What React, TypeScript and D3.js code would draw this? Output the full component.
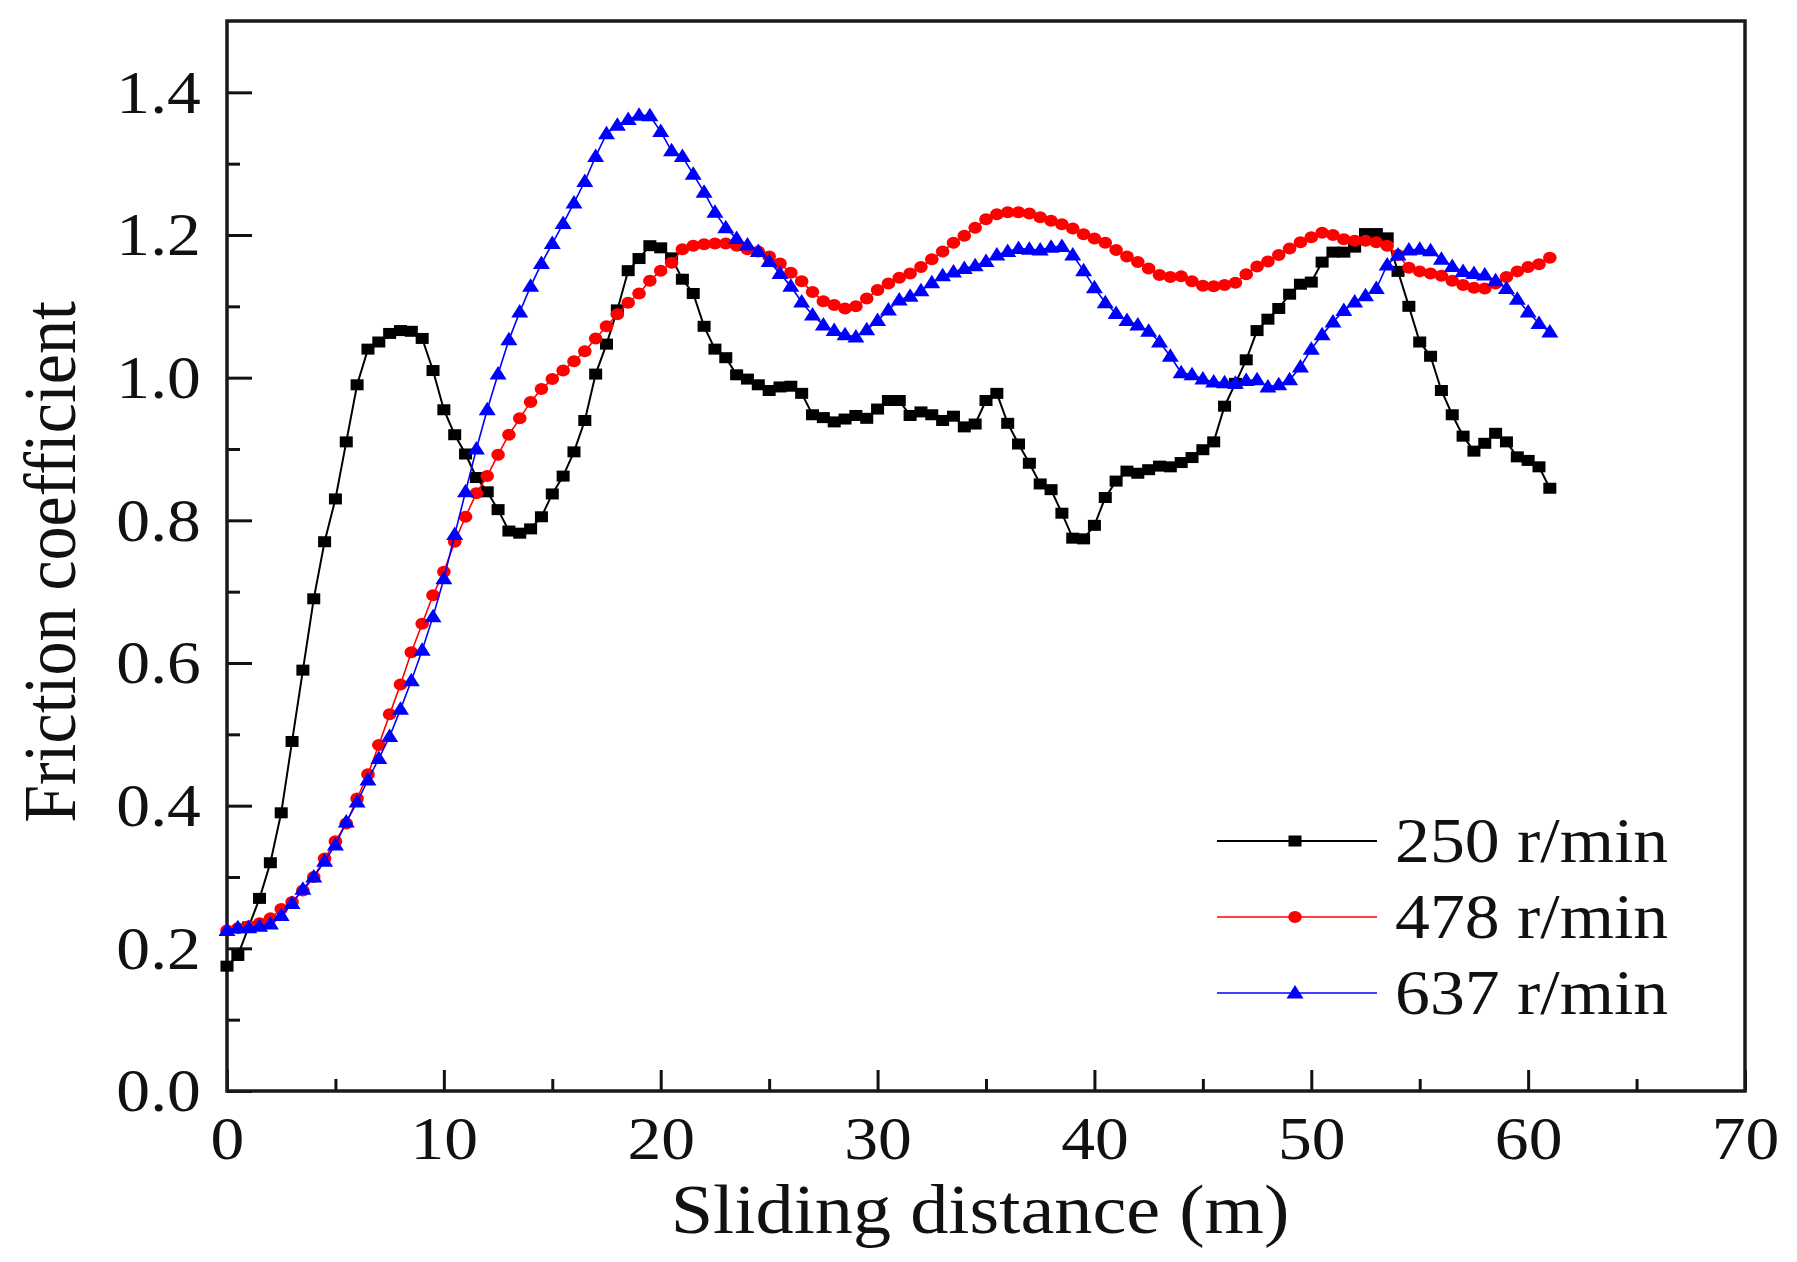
import React, { useEffect, useRef } from "react";
import * as d3 from "d3";

// sliding distance grid (m), one reading every 0.5 m
const distance = d3.range(0, 61.01, 0.5);

const rpm250 = [
  0.175, 0.19, 0.23, 0.27, 0.32, 0.39, 0.49, 0.59, 0.69, 0.77,
  0.83, 0.91, 0.99, 1.04, 1.05, 1.062, 1.066, 1.065, 1.055, 1.01,
  0.955, 0.92, 0.893, 0.86, 0.84, 0.815, 0.785, 0.782, 0.788, 0.805,
  0.837, 0.862, 0.896, 0.94, 1.005, 1.047, 1.095, 1.15, 1.167, 1.185,
  1.182, 1.168, 1.138, 1.118, 1.072, 1.04, 1.028, 1.004, 0.998, 0.99,
  0.982, 0.987, 0.988, 0.978, 0.948, 0.944, 0.938, 0.942, 0.947, 0.943,
  0.956, 0.968, 0.968, 0.947, 0.952, 0.948, 0.94, 0.946, 0.931, 0.935,
  0.968, 0.978, 0.936, 0.907, 0.88, 0.851, 0.843, 0.81, 0.775, 0.774,
  0.793, 0.832, 0.855, 0.869, 0.866, 0.871, 0.876, 0.875, 0.881, 0.888,
  0.899, 0.91, 0.96, 0.992, 1.025, 1.066, 1.082, 1.097, 1.117, 1.131,
  1.134, 1.162, 1.176, 1.176, 1.183, 1.202, 1.202, 1.196, 1.149, 1.1,
  1.05, 1.03, 0.982, 0.948, 0.918, 0.897, 0.908, 0.922, 0.91, 0.889,
  0.884, 0.875, 0.845,
];

const rpm478 = [
  0.225, 0.228, 0.231, 0.235, 0.242, 0.255, 0.265, 0.281, 0.3, 0.326,
  0.35, 0.375, 0.41, 0.444, 0.485, 0.528, 0.57, 0.615, 0.655, 0.695,
  0.728, 0.77, 0.805, 0.838, 0.862, 0.892, 0.92, 0.943, 0.966, 0.984,
  0.998, 1.01, 1.023, 1.037, 1.055, 1.072, 1.089, 1.105, 1.118, 1.136,
  1.15, 1.161, 1.18, 1.185, 1.187, 1.188, 1.188, 1.185, 1.18, 1.177,
  1.17, 1.16, 1.147, 1.135, 1.12, 1.107, 1.102, 1.097, 1.1, 1.111,
  1.123, 1.132, 1.14, 1.146, 1.155, 1.166, 1.177, 1.189, 1.199, 1.21,
  1.222, 1.229, 1.232, 1.232, 1.23, 1.225, 1.22, 1.215, 1.209, 1.201,
  1.195, 1.189, 1.179, 1.17, 1.162, 1.153, 1.144, 1.141, 1.142, 1.135,
  1.129, 1.128, 1.13, 1.133, 1.145, 1.156, 1.163, 1.172, 1.181, 1.19,
  1.197, 1.203, 1.2, 1.194, 1.192, 1.192, 1.19, 1.185, 1.172, 1.154,
  1.149, 1.146, 1.143, 1.136, 1.13, 1.126, 1.125, 1.132, 1.141, 1.149,
  1.155, 1.159, 1.168,
];

const rpm637 = [
  0.225, 0.229, 0.229, 0.231, 0.234, 0.246, 0.263, 0.283, 0.3, 0.322,
  0.345, 0.377, 0.405, 0.436, 0.466, 0.497, 0.535, 0.575, 0.618, 0.665,
  0.718, 0.78, 0.84, 0.9, 0.955, 1.005, 1.053, 1.092, 1.128, 1.16,
  1.188, 1.216, 1.245, 1.275, 1.31, 1.342, 1.354, 1.362, 1.368, 1.367,
  1.345, 1.318, 1.31, 1.285, 1.26, 1.232, 1.21, 1.195, 1.186, 1.177,
  1.163, 1.146, 1.128, 1.106, 1.088, 1.074, 1.066, 1.06, 1.057, 1.067,
  1.08, 1.095, 1.109, 1.114, 1.122, 1.133, 1.143, 1.148, 1.153, 1.157,
  1.163, 1.172, 1.177, 1.181, 1.18, 1.179, 1.183, 1.184, 1.172, 1.15,
  1.126, 1.105, 1.09, 1.08, 1.074, 1.065, 1.05, 1.03, 1.007, 1.004,
  0.998, 0.994, 0.993, 0.992, 0.996, 0.997, 0.987, 0.99, 0.997, 1.015,
  1.04, 1.06, 1.078, 1.094, 1.106, 1.115, 1.125, 1.158, 1.172, 1.179,
  1.18, 1.178, 1.166, 1.156, 1.149, 1.146, 1.144, 1.136, 1.125, 1.11,
  1.092, 1.076, 1.064,
];

const seriesNames = ["250 r/min", "478 r/min", "637 r/min"];
const xTicks = [0, 10, 20, 30, 40, 50, 60, 70];
const yTicks = [0, 0.2, 0.4, 0.6, 0.8, 1.0, 1.2, 1.4];

export default function App() {
  const svgRef = useRef<SVGSVGElement>(null);

  useEffect(() => {
    if (!svgRef.current) return;
    const svg = d3.select(svgRef.current);
    svg.selectAll("*").remove();

    const font = "'Liberation Serif', 'Times New Roman', serif";
    const stretch = 1.09; // the source figure is a little wider than tall
    const left = 227, right = 1745, top = 21, bottom = 1091;

    const x = d3.scaleLinear().domain([0, 70]).range([left, right]);
    const y = d3.scaleLinear().domain([0, 1.5]).range([bottom, top]);

    svg.append("rect").attr("width", 1797).attr("height", 1262).attr("fill", "#fff");

    // minor ticks
    svg.append("g")
      .attr("transform", `translate(0,${bottom})`)
      .call(d3.axisBottom(x).tickValues(d3.range(5, 70, 10)).tickSizeInner(-12).tickSizeOuter(0).tickFormat(() => ""))
      .call((g) => g.select(".domain").remove())
      .call((g) => g.selectAll("line").attr("stroke", "#111").attr("stroke-width", 3));
    svg.append("g")
      .attr("transform", `translate(${left},0)`)
      .call(d3.axisLeft(y).tickValues(d3.range(0.1, 1.45, 0.2)).tickSizeInner(-13).tickSizeOuter(0).tickFormat(() => ""))
      .call((g) => g.select(".domain").remove())
      .call((g) => g.selectAll("line").attr("stroke", "#111").attr("stroke-width", 3));

    // major ticks with labels
    svg.append("g")
      .attr("transform", `translate(0,${bottom})`)
      .call(d3.axisBottom(x).tickValues(xTicks).tickSizeInner(-21).tickSizeOuter(0).tickPadding(24).tickFormat(d3.format("d")))
      .call((g) => g.select(".domain").remove())
      .call((g) => g.selectAll("line").attr("stroke", "#111").attr("stroke-width", 3))
      .call((g) =>
        g.selectAll("text")
          .attr("font-family", font)
          .attr("font-size", 62)
          .attr("fill", "#111")
          .attr("transform", `scale(${stretch},1)`)
      );
    svg.append("g")
      .attr("transform", `translate(${left},0)`)
      .call(d3.axisLeft(y).tickValues(yTicks).tickSizeInner(-25).tickSizeOuter(0).tickPadding(24).tickFormat(d3.format(".1f")))
      .call((g) => g.select(".domain").remove())
      .call((g) => g.selectAll("line").attr("stroke", "#111").attr("stroke-width", 3))
      .call((g) =>
        g.selectAll("text")
          .attr("font-family", font)
          .attr("font-size", 62)
          .attr("fill", "#111")
          .attr("transform", `scale(${stretch},1)`)
      );

    // frame
    svg.append("rect")
      .attr("x", left)
      .attr("y", top)
      .attr("width", right - left)
      .attr("height", bottom - top)
      .attr("fill", "none")
      .attr("stroke", "#1a1a1a")
      .attr("stroke-width", 3.5);

    // axis titles
    svg.append("text")
      .attr("transform", `translate(${(left + right) / 2 - 6},1233) scale(${stretch},1)`)
      .attr("text-anchor", "middle")
      .attr("font-family", font)
      .attr("font-size", 70)
      .attr("fill", "#111")
      .text("Sliding distance (m)");
    svg.append("text")
      .attr("transform", `translate(75,562) rotate(-90) scale(1,${stretch})`)
      .attr("text-anchor", "middle")
      .attr("font-family", font)
      .attr("font-size", 68)
      .attr("fill", "#111")
      .text("Friction coefficient");

    type Marker = "square" | "circle" | "triangle";
    const series: { name: string; values: number[]; color: string; width: number; marker: Marker }[] = [
      { name: seriesNames[0], values: rpm250, color: "#000000", width: 2, marker: "square" },
      { name: seriesNames[1], values: rpm478, color: "#ff0000", width: 1.6, marker: "circle" },
      { name: seriesNames[2], values: rpm637, color: "#0000ff", width: 1.6, marker: "triangle" },
    ];

    const drawMarker = (g: d3.Selection<SVGGElement, unknown, null, undefined>, kind: Marker, color: string, cx: number, cy: number) => {
      if (kind === "square") {
        g.append("rect").attr("x", cx - 6.5).attr("y", cy - 5.5).attr("width", 13).attr("height", 11).attr("fill", color);
      } else if (kind === "circle") {
        g.append("ellipse").attr("cx", cx).attr("cy", cy).attr("rx", 6.8).attr("ry", 6).attr("fill", color);
      } else {
        g.append("path")
          .attr("d", `M${cx},${cy - 8}L${cx + 8.5},${cy + 5.5}L${cx - 8.5},${cy + 5.5}Z`)
          .attr("fill", color);
      }
    };

    const line = d3
      .line<number>()
      .x((_, i) => x(distance[i]))
      .y((d) => y(d));

    series.forEach((s) => {
      const g = svg.append("g");
      g.append("path")
        .datum(s.values)
        .attr("d", line)
        .attr("fill", "none")
        .attr("stroke", s.color)
        .attr("stroke-width", s.width);
      s.values.forEach((v, i) => drawMarker(g as any, s.marker, s.color, x(distance[i]), y(v)));
    });

    // legend
    const legendRows = [841, 917, 993];
    series.forEach((s, i) => {
      const g = svg.append("g");
      const ly = legendRows[i];
      g.append("line")
        .attr("x1", 1217)
        .attr("x2", 1377)
        .attr("y1", ly)
        .attr("y2", ly)
        .attr("stroke", s.color)
        .attr("stroke-width", s.width);
      drawMarker(g as any, s.marker, s.color, 1295, ly);
      g.append("text")
        .attr("transform", `translate(1395,${ly + 21}) scale(${stretch},1)`)
        .attr("font-family", font)
        .attr("font-size", 64)
        .attr("fill", "#111")
        .text(s.name);
    });
  }, []);

  return (
    <svg
      ref={svgRef}
      width={1797}
      height={1262}
      style={{ position: "absolute", left: 0, top: 0, display: "block" }}
    />
  );
}
